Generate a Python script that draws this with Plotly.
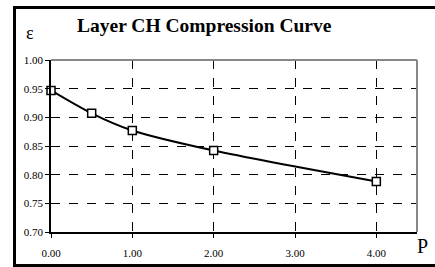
import plotly.graph_objects as go

P = [0.0, 0.5, 1.0, 2.0, 4.0]
eps = [0.947, 0.907, 0.877, 0.842, 0.788]
x_ticks = [0, 1, 2, 3, 4]
x_tick_labels = ["0.00", "1.00", "2.00", "3.00", "4.00"]
y_ticks = [0.70, 0.75, 0.80, 0.85, 0.90, 0.95, 1.00]
y_tick_labels = ["0.70", "0.75", "0.80", "0.85", "0.90", "0.95", "1.00"]

W, H = 435, 267
# paper region = outer black frame
ML, MR, MT, MB = 16, 0, 9, 3
PW, PH = W - ML - MR, H - MT - MB

def px(x):
    return (x - ML) / PW

def py(y):
    return (H - MB - y) / PH

# main plot area in pixels
PL, PR, PT, PB = 51, 417, 60, 232

serif = "Liberation Serif, Times New Roman, serif"

fig = go.Figure()
fig.add_trace(go.Scatter(
    x=P, y=eps, mode="lines+markers",
    line=dict(color="black", width=2, shape="spline", smoothing=0.8),
    marker=dict(symbol="square", size=8, color="white",
                line=dict(color="black", width=1.5)),
    showlegend=False, cliponaxis=False, xaxis="x", yaxis="y",
))
# empty trace that carries the outer-frame subplot
fig.add_trace(go.Scatter(x=[], y=[], xaxis="x2", yaxis="y2",
                         showlegend=False, hoverinfo="skip"))

axis_common = dict(showgrid=True, gridcolor="black", griddash="dash", gridwidth=1,
                   showline=True, linecolor="black", linewidth=1.5,
                   ticks="outside", ticklen=4, tickcolor="black", tickwidth=1,
                   zeroline=False, automargin=False,
                   tickfont=dict(family=serif, size=11))

fig.update_layout(
    width=W, height=H,
    margin=dict(l=ML, r=MR, t=MT, b=MB, pad=0, autoexpand=False),
    paper_bgcolor="white", plot_bgcolor="rgba(0,0,0,0)",
    font=dict(family=serif, color="black", size=11),
    xaxis=dict(domain=[px(PL), px(PR)], anchor="y", range=[0, 4.5],
               tickvals=x_ticks, ticktext=x_tick_labels,
               ticklabelstandoff=6, **axis_common),
    yaxis=dict(domain=[py(PB), py(PT)], anchor="x", range=[0.70, 1.00],
               tickvals=y_ticks, ticktext=y_tick_labels, **axis_common),
    xaxis2=dict(domain=[0, 1], anchor="y2", range=[0, 1], showgrid=False,
                zeroline=False, showticklabels=False, ticks="",
                showline=True, linecolor="black", linewidth=3, mirror=True,
                fixedrange=True),
    yaxis2=dict(domain=[0, 1], anchor="x2", range=[0, 1], showgrid=False,
                zeroline=False, showticklabels=False, ticks="",
                showline=True, linecolor="black", linewidth=3, mirror=False,
                fixedrange=True),
    shapes=[
        dict(type="line", xref="x domain", yref="y domain", x0=1, x1=1, y0=0, y1=1,
             line=dict(color="#888888", width=2), layer="above"),
        dict(type="line", xref="x domain", yref="y domain", x0=0, x1=1, y0=1, y1=1,
             line=dict(color="#888888", width=2), layer="above"),
    ],
    annotations=[
        dict(text="<b>Layer CH Compression Curve</b>", xref="paper", yref="paper",
             x=px(204.5), y=py(26), xanchor="center", yanchor="middle",
             showarrow=False, font=dict(family=serif, size=19.5, color="black")),
        dict(text="ε", xref="paper", yref="paper",
             x=px(30), y=py(33), xanchor="center", yanchor="middle",
             showarrow=False, font=dict(family=serif, size=18, color="black")),
        dict(text="P", xref="paper", yref="paper",
             x=px(422), y=py(246), xanchor="center", yanchor="middle",
             showarrow=False, font=dict(family=serif, size=20, color="black")),
    ],
)

frame_js = (
    "document.body.style.margin='0';document.body.style.overflow='hidden';"
    "var f=document.createElement('div');"
    "f.style.cssText='position:absolute;left:13px;top:6px;width:460px;height:261px;"
    "border:3px solid black;border-right:none;box-sizing:border-box;pointer-events:none;';"
    "document.body.appendChild(f);"
)

fig.write_html("out.html", config={"displayModeBar": False}, post_script=frame_js)
